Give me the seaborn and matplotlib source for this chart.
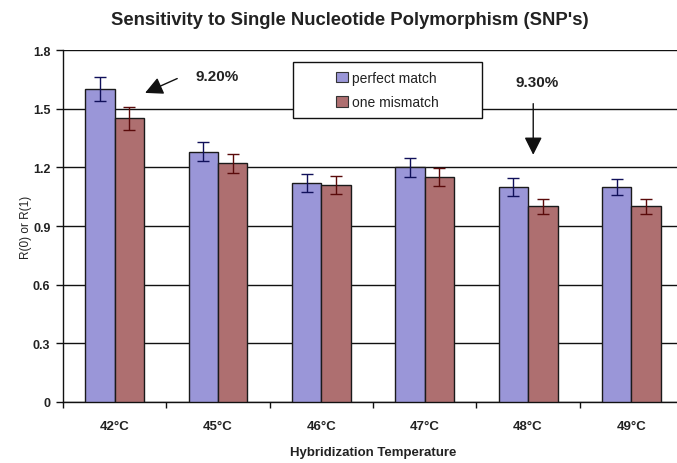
import matplotlib
matplotlib.use("Agg")
import matplotlib.pyplot as plt
import seaborn as sns
import pandas as pd
import numpy as np
from matplotlib.ticker import FixedLocator
from matplotlib.patches import Rectangle

categories = ["42°C", "45°C", "46°C", "47°C", "48°C", "49°C"]
perfect = [1.60, 1.28, 1.12, 1.20, 1.10, 1.10]
perfect_err = [0.06, 0.05, 0.045, 0.05, 0.047, 0.04]
mismatch = [1.45, 1.22, 1.11, 1.15, 1.00, 1.00]
mismatch_err = [0.06, 0.047, 0.045, 0.045, 0.04, 0.04]
series = ["perfect match", "one mismatch"]
yticks = [0, 0.3, 0.6, 0.9, 1.2, 1.5, 1.8]
ytick_labels = ["0", "0.3", "0.6", "0.9", "1.2", "1.5", "1.8"]

df = pd.DataFrame({
    "Temperature": categories * 2,
    "Series": [series[0]] * len(categories) + [series[1]] * len(categories),
    "Value": perfect + mismatch,
})

sns.set_theme(style="white")
plt.rcParams["font.family"] = ["Liberation Sans", "DejaVu Sans"]

fig = plt.figure(figsize=(6.77, 4.64), dpi=100)
ax = fig.add_axes([0.093, 0.1315, 0.916, 0.7585])

colors = ["#9A96D8", "#AE6F70"]
sns.barplot(data=df, x="Temperature", y="Value", hue="Series",
            order=categories, hue_order=series, palette=colors,
            width=0.57, gap=0, errorbar=None, saturation=1,
            edgecolor="#1a1a1a", linewidth=1.0, ax=ax, zorder=3)

# error bars from the bars drawn by seaborn
err_colors = ["#10105a", "#5a0a0a"]
n = len(categories)
bars = [p for p in ax.patches if p.get_height() > 0][:2 * n]
for s, (errs, vals) in enumerate([(perfect_err, perfect), (mismatch_err, mismatch)]):
    xs = [b.get_x() + b.get_width() / 2 for b in bars[s * n:(s + 1) * n]]
    ax.errorbar(xs, vals, yerr=errs, fmt="none", ecolor=err_colors[s],
                elinewidth=1.0, capsize=4.3, capthick=1.0, zorder=4)

ax.set_ylim(0, 1.8)
ax.set_xlim(-0.5, len(categories) - 0.5)
ax.set_yticks(yticks)
ax.set_yticklabels(ytick_labels, fontsize=9, fontweight="bold", color="#222222")
ax.yaxis.grid(True, color="#111111", linewidth=1.0, zorder=0)
ax.set_axisbelow(True)

ax.tick_params(axis="x", which="major", length=0, pad=13)
ax.xaxis.set_minor_locator(FixedLocator(np.arange(-0.5, len(categories), 1.0)))
ax.tick_params(axis="x", which="minor", length=4, width=1, color="#111111", direction="out", bottom=True)
ax.tick_params(axis="y", which="major", length=5, width=1, color="#111111", direction="out", left=True, pad=4)
for lbl in ax.get_xticklabels():
    lbl.set_fontsize(9.5)
    lbl.set_fontweight("bold")
    lbl.set_color("#222222")

for side in ["top", "right"]:
    ax.spines[side].set_visible(False)
for side in ["left", "bottom"]:
    ax.spines[side].set_color("#111111")
    ax.spines[side].set_linewidth(1.0)

ax.set_xlabel("Hybridization Temperature", fontsize=9.5, fontweight="bold", color="#222222", labelpad=10)
ax.set_ylabel("R(0) or R(1)", fontsize=8.5, color="#222222", labelpad=1)

fig.text(0.517, 0.955, "Sensitivity to Single Nucleotide Polymorphism (SNP's)",
         ha="center", va="center", fontsize=13.3, fontweight="bold", color="#222222")

# annotations
ax.annotate("", xy=(0.27, 1.575), xytext=(0.63, 1.66),
            arrowprops=dict(arrowstyle="-|>,head_length=0.9,head_width=0.45", color="#111111", lw=1.0))
ax.text(0.99, 1.667, "9.20%", ha="center", va="center", fontsize=11, fontweight="bold", color="#222222")
ax.annotate("", xy=(4.05, 1.25), xytext=(4.05, 1.54),
            arrowprops=dict(arrowstyle="-|>,head_length=0.9,head_width=0.45", color="#111111", lw=1.0))
ax.text(4.09, 1.636, "9.30%", ha="center", va="center", fontsize=11, fontweight="bold", color="#222222")

# legend frame (wider than its content, content centred)
frame = Rectangle((293 / 677, 1 - 119 / 464), 189 / 677, 56 / 464, transform=fig.transFigure,
                  facecolor="white", edgecolor="#111111", linewidth=1.0, zorder=5)
ax.add_patch(frame)
frame.set_clip_on(False)
leg = ax.legend(loc="center", bbox_to_anchor=(387.5 / 677, 1 - 91 / 464), bbox_transform=fig.transFigure,
                fontsize=10, frameon=False,
                handlelength=0.8, handleheight=0.8, handletextpad=0.3,
                borderpad=0.3, labelspacing=0.75, borderaxespad=0)
leg.set_zorder(6)
for h in leg.legend_handles:
    h.set_edgecolor("#333333")
    h.set_linewidth(0.8)
for t in leg.get_texts():
    t.set_color("#222222")

fig.savefig("out.png", dpi=100)
